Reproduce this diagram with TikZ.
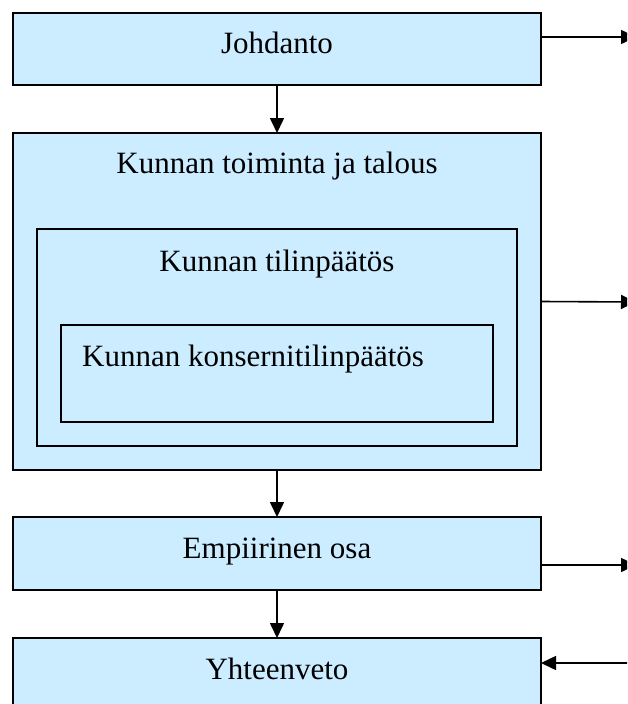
\documentclass[tikz,border=0pt]{standalone}
\usepackage{fontspec}
\setmainfont{Liberation Serif}
\usetikzlibrary{arrows.meta}
\definecolor{boxfill}{RGB}{204,236,255}
\begin{document}
\begin{tikzpicture}[x=1pt,y=-1pt,
  panel/.style={draw=black, line width=1.8pt, fill=boxfill, rectangle,
    inner sep=0pt, outer sep=0pt},
  frame/.style={draw=black, line width=1.6pt, rectangle, inner sep=0pt, outer sep=0pt},
  caption/.style={anchor=base, inner sep=0pt, font=\fontsize{31}{36}\selectfont},
  flow/.style={line width=1.6pt, -{Triangle[length=15pt,width=14pt]}}]
  \useasboundingbox (0,0) rectangle (627,704);
  \clip (0,0) rectangle (627,704);

  % main boxes
  \node[panel, minimum width=528pt, minimum height=72pt]  (jo)  at (277,49)    {};
  \node[panel, minimum width=528pt, minimum height=337pt] (big) at (277,301.5) {};
  \node[frame, minimum width=480pt, minimum height=217pt] (mid) at (277,337.5) {};
  \node[frame, minimum width=432pt, minimum height=97pt]  (inn) at (277,373.5) {};
  \node[panel, minimum width=528pt, minimum height=73pt]  (emp) at (277,553.5) {};
  \node[panel, minimum width=528pt, minimum height=84pt]  (yh)  at (277,680)   {};

  % texts
  \node[caption] (tjo)  at (277,53)  {Johdanto};
  \node[caption] (tbig) at (277,173) {Kunnan toiminta ja talous};
  \node[caption] (tmid) at (277,271) {Kunnan tilinpäätös};
  \node[caption, anchor=base west] (tinn) at (82,366) {Kunnan konsernitilinpäätös};
  \node[caption] (temp) at (277,558) {Empiirinen osa};
  \node[caption] (tyh)  at (277,679) {Yhteenveto};

  % free ends at the right margin
  \coordinate (o1) at (636,37);
  \coordinate (o2) at (636,302);
  \coordinate (o3) at (636,565);
  \coordinate (i4) at (640,663);

  % vertical flow
  \draw[flow] (jo.south)  -- (big.north);
  \draw[flow] (big.south) -- (emp.north);
  \draw[flow] (emp.south) -- (yh.north);

  % side connectors
  \draw[flow] ([yshift=12pt]jo.east) -- (o1);
  \draw[flow] (big.east) -- (o2);
  \draw[flow] ([yshift=-11.5pt]emp.east) -- (o3);
  \draw[flow] (i4) -- ([yshift=-25pt]yh.north east);
\end{tikzpicture}
\end{document}
